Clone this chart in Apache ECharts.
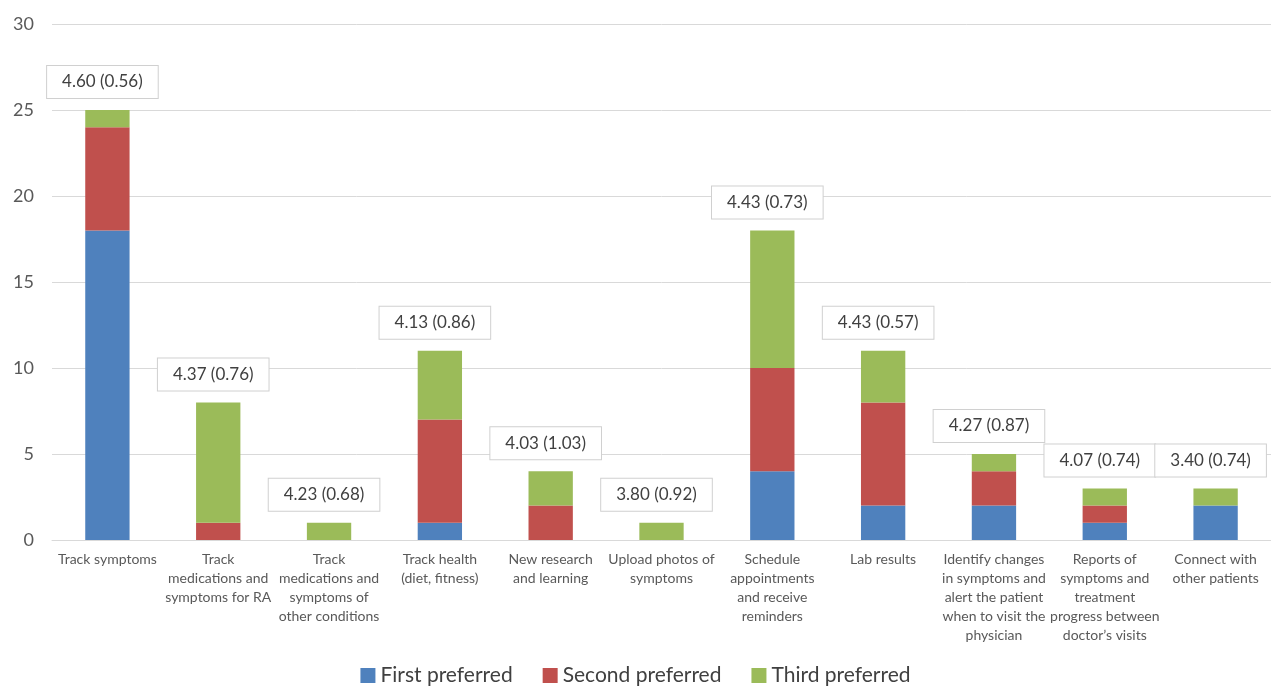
<!DOCTYPE html>
<html>
<head>
<meta charset="utf-8">
<title>Preferred app features</title>
<script src="https://cdn.jsdelivr.net/npm/echarts@6/dist/echarts.min.js"></script>
<style>
    html, body { margin: 0; padding: 0; background: #fff; }
    #main { width: 1271px; height: 688px; }
</style>
</head>
<body>
<div id="main"></div>
<script>
    // categories (line breaks as in the original figure)
    let categories = [
        'Track symptoms',
        'Track\nmedications and\nsymptoms for RA',
        'Track\nmedications and\nsymptoms of\nother conditions',
        'Track health\n(diet, fitness)',
        'New research\nand learning',
        'Upload photos of\nsymptoms',
        'Schedule\nappointments\nand receive\nreminders',
        'Lab results',
        'Identify changes\nin symptoms and\nalert the patient\nwhen to visit the\nphysician',
        'Reports of\nsymptoms and\ntreatment\nprogress between\ndoctor\u2019s visits',
        'Connect with\nother patients'
    ];
    let firstPreferred  = [18, 0, 0, 1, 0, 0, 4, 2, 2, 1, 2];
    let secondPreferred = [6, 1, 0, 6, 2, 0, 6, 6, 2, 1, 0];
    let thirdPreferred  = [1, 7, 1, 4, 2, 1, 8, 3, 1, 1, 1];
    // mean (SD) shown above each bar
    let meanSd = ['4.60 (0.56)', '4.37 (0.76)', '4.23 (0.68)', '4.13 (0.86)', '4.03 (1.03)',
        '3.80 (0.92)', '4.43 (0.73)', '4.43 (0.57)', '4.27 (0.87)', '4.07 (0.74)', '3.40 (0.74)'];
    let yTicks = [0, 5, 10, 15, 20, 25, 30];

    let font = 'Lato, "Open Sans", sans-serif';
    let myChart = echarts.init(document.getElementById('main'));

    let option = {
        animation: false,
        textStyle: { fontFamily: font },
        color: ['#4f81bd', '#c0504d', '#9bbb59'],
        grid: { left: 52, right: -11, top: 24, bottom: 148, containLabel: false },
        legend: {
            bottom: -3,
            left: 'center',
            icon: 'rect',
            itemWidth: 15,
            itemHeight: 15,
            itemGap: 30,
            textStyle: { fontSize: 21, color: '#404040', fontFamily: font }
        },
        xAxis: {
            type: 'category',
            data: categories,
            axisTick: { show: false },
            axisLine: { lineStyle: { color: '#d9d9d9' } },
            axisLabel: {
                interval: 0,
                color: '#595959',
                fontSize: 14,
                lineHeight: 19,
                margin: 10,
                fontFamily: font
            }
        },
        yAxis: {
            type: 'value',
            min: yTicks[0],
            max: yTicks[yTicks.length - 1],
            interval: 5,
            axisLine: { show: false },
            axisTick: { show: false },
            splitLine: { lineStyle: { color: '#d9d9d9' } },
            axisLabel: { color: '#595959', fontSize: 18, margin: 18, fontFamily: font }
        },
        series: [
            { name: 'First preferred', type: 'bar', stack: 'total', barWidth: '40%', data: firstPreferred },
            { name: 'Second preferred', type: 'bar', stack: 'total', barWidth: '40%', data: secondPreferred },
            {
                name: 'Third preferred', type: 'bar', stack: 'total', barWidth: '40%', data: thirdPreferred,
                label: {
                    show: true,
                    position: 'top',
                    distance: 12,
                    offset: [-5, 0],
                    formatter: (p) => meanSd[p.dataIndex],
                    color: '#404040',
                    fontSize: 17,
                    lineHeight: 18,
                    fontFamily: font,
                    backgroundColor: '#fff',
                    borderColor: '#d0d0d0',
                    borderWidth: 1,
                    padding: [7, 15]
                }
            }
        ]
    };
    myChart.setOption(option);
</script>
</body>
</html>
